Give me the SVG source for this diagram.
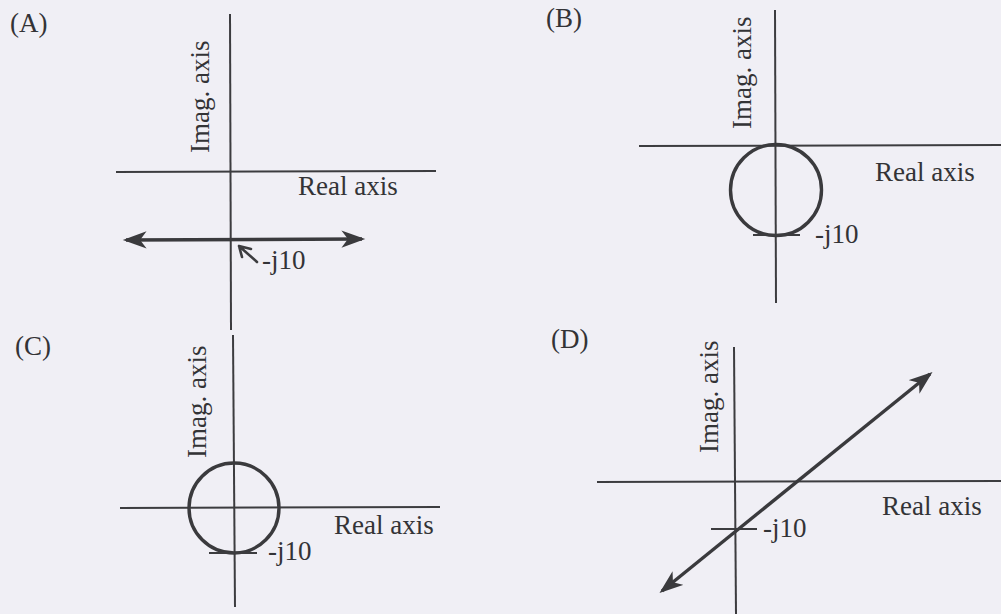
<svg xmlns="http://www.w3.org/2000/svg" width="1001" height="614" viewBox="0 0 1001 614">
<defs>
<style>
.bg{fill:#f0eff5}
.ax{stroke:#3c3c3f;stroke-width:2;fill:none}
.thick{stroke:#3a3a3d;stroke-width:3.4;fill:none}
.tick{stroke:#3c3c3f;stroke-width:2;fill:none}
.sarrow{stroke:#3c3c3f;stroke-width:2.6;fill:none;stroke-linecap:round;stroke-linejoin:round}
.t{font-family:"Liberation Serif","Times New Roman",serif;font-size:27px;fill:#333336}
</style>
<marker id="ah" markerUnits="userSpaceOnUse" markerWidth="26" markerHeight="18" refX="19" refY="8" orient="auto-start-reverse" viewBox="0 0 24 16">
<path d="M0,0 L22,8 L0,16 L6,8 z" fill="#3a3a3d"/>
</marker>
</defs>
<rect class="bg" x="0" y="0" width="1001" height="614"/>

<g id="panelA">
<text class="t" x="10" y="32">(A)</text>
<line class="ax" x1="230" y1="14" x2="231" y2="330"/>
<line class="ax" x1="116" y1="172" x2="436" y2="171"/>
<text class="t" transform="translate(209,153) rotate(-90)">Imag. axis</text>
<text class="t" x="298" y="195">Real axis</text>
<line class="thick" x1="126" y1="240" x2="362" y2="239" marker-start="url(#ah)" marker-end="url(#ah)"/>
<path class="sarrow" d="M257,262 L239,246 M239,246 L251,249 M239,246 L242,257"/>
<text class="t" x="262" y="269">-j10</text>
</g>

<g id="panelB">
<text class="t" x="546" y="27">(B)</text>
<line class="ax" x1="775" y1="10" x2="776" y2="303"/>
<line class="ax" x1="639" y1="146" x2="1001" y2="145"/>
<text class="t" transform="translate(751,129) rotate(-90)">Imag. axis</text>
<text class="t" x="875" y="181">Real axis</text>
<circle class="thick" cx="776" cy="190" r="45.5"/>
<line class="tick" x1="753" y1="235" x2="800" y2="235"/>
<text class="t" x="815" y="243">-j10</text>
</g>

<g id="panelC">
<text class="t" x="15" y="355">(C)</text>
<line class="ax" x1="233" y1="335" x2="235" y2="607"/>
<line class="ax" x1="120" y1="508" x2="440" y2="507"/>
<text class="t" transform="translate(206,458) rotate(-90)">Imag. axis</text>
<text class="t" x="334" y="534">Real axis</text>
<circle class="thick" cx="234" cy="508" r="45"/>
<line class="tick" x1="209" y1="553" x2="257" y2="553"/>
<text class="t" x="268" y="560">-j10</text>
</g>

<g id="panelD">
<text class="t" x="551" y="348">(D)</text>
<line class="ax" x1="734" y1="347" x2="736" y2="614"/>
<line class="ax" x1="597" y1="482" x2="1001" y2="481"/>
<text class="t" transform="translate(718,453) rotate(-90)">Imag. axis</text>
<text class="t" x="882" y="515">Real axis</text>
<line class="tick" x1="711" y1="529" x2="757" y2="529"/>
<line class="thick" x1="662" y1="591" x2="930" y2="374" marker-start="url(#ah)" marker-end="url(#ah)"/>
<text class="t" x="763" y="537">-j10</text>
</g>
</svg>
